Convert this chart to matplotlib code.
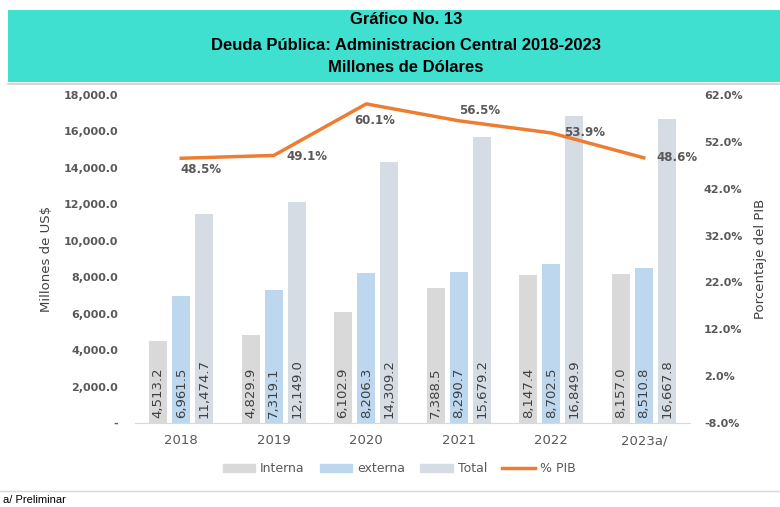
import matplotlib
matplotlib.use("Agg")
import matplotlib.pyplot as plt
import numpy as np
from matplotlib.patches import Rectangle
from matplotlib.lines import Line2D

years = ["2018", "2019", "2020", "2021", "2022", "2023a/"]
interna = [4513.2, 4829.9, 6102.9, 7388.5, 8147.4, 8157.0]
externa = [6961.5, 7319.1, 8206.3, 8290.7, 8702.5, 8510.8]
total = [11474.7, 12149.0, 14309.2, 15679.2, 16849.9, 16667.8]
pib = [48.5, 49.1, 60.1, 56.5, 53.9, 48.6]
left_ticks = [0, 2000, 4000, 6000, 8000, 10000, 12000, 14000, 16000, 18000]
right_ticks = [-8, 2, 12, 22, 32, 42, 52, 62]

c_int = "#D9D9D9"
c_ext = "#BDD7EE"
c_tot = "#D6DCE4"
c_line = "#ED7D31"
txt = "#595959"

fig = plt.figure(figsize=(7.8, 5.07), dpi=100)
fig.patch.set_facecolor("white")

# header band
fig.patches.append(Rectangle((8/780, 1-82/507), 772/780, 72/507, transform=fig.transFigure,
                             facecolor="#40E0D0", edgecolor="none", zorder=0))
fig.add_artist(Line2D([8/780, 1], [1-83.5/507, 1-83.5/507], color="#D0D0D0", lw=1.2))
tfont = dict(family=["Liberation Sans Narrow", "Liberation Sans", "DejaVu Sans"], fontweight="bold",
             fontsize=12, color="black", ha="center", va="center")
fig.text(406/780, 1-20/507, "Gráfico No. 13", **tfont)
fig.text(406/780, 1-45/507, "Deuda Pública: Administracion Central 2018-2023", **tfont)
fig.text(406/780, 1-68/507, "Millones de Dólares", **tfont)

ax = fig.add_axes([135/780, 1-423/507, 555/780, 328/507])
x = np.arange(len(years))
w = 0.195
off = 0.25
b1 = ax.bar(x - off, interna, w, color=c_int, zorder=2)
b2 = ax.bar(x, externa, w, color=c_ext, zorder=2)
b3 = ax.bar(x + off, total, w, color=c_tot, zorder=2)
for bars, vals in [(b1, interna), (b2, externa), (b3, total)]:
    for r, v in zip(bars, vals):
        ax.text(r.get_x() + r.get_width()/2, 250, f"{v:,.1f}", rotation=90, ha="center", va="bottom",
                fontsize=9.5, color="#404040", zorder=3)

ax.set_xlim(-0.5, 5.5)
ax.set_ylim(0, 18000)
ax.set_xticks(x)
ax.set_xticklabels(years, fontsize=9.5, color=txt)
ax.set_yticks(left_ticks)
ax.set_yticklabels(["-"] + [f"{v:,.1f}" for v in left_ticks[1:]], fontsize=8, color=txt, fontweight="bold")
ax.tick_params(axis="y", length=0, pad=12)
ax.tick_params(axis="x", length=0, pad=8)
for s in ["top", "right", "left"]:
    ax.spines[s].set_visible(False)
ax.spines["bottom"].set_color("#D9D9D9")
ax.set_ylabel("Millones de US$", fontsize=9.5, color="#404040", labelpad=8)

ax2 = ax.twinx()
ax2.plot(x, pib, color=c_line, lw=2.5, zorder=5)
ax2.set_ylim(-8, 62)
ax2.set_yticks(right_ticks)
ax2.set_yticklabels([f"{v:.1f}%" for v in right_ticks], fontsize=8, color=txt, fontweight="bold")
ax2.tick_params(axis="y", length=0, pad=10)
for s in ["top", "right", "left", "bottom"]:
    ax2.spines[s].set_visible(False)
ax2.set_ylabel("Porcentaje del PIB", fontsize=9.5, color="#404040", labelpad=8)

lab_off = [(0.21, -2.3), (0.36, -0.2), (0.09, -3.6), (0.23, 2.1), (0.36, 0.0), (0.36, 0.0)]
for xi, v, (dx, dy) in zip(x, pib, lab_off):
    ax2.text(xi + dx, v + dy, f"{v:.1f}%", ha="center", va="center", fontsize=8.5, color=txt,
             fontweight="bold", zorder=6)

handles = [Rectangle((0, 0), 1, 1, color=c_int), Rectangle((0, 0), 1, 1, color=c_ext),
           Rectangle((0, 0), 1, 1, color=c_tot), Line2D([], [], color=c_line, lw=2.5)]
fig.legend(handles, ["Interna", "externa", "Total", "% PIB"], loc="center", ncol=4,
           bbox_to_anchor=(399/780, 1-469/507), frameon=False, fontsize=9,
           handlelength=2.6, handleheight=0.6, handletextpad=0.4, columnspacing=1.2, labelcolor=txt)

fig.add_artist(Line2D([0, 1], [1-491/507, 1-491/507], color="#D9D9D9", lw=1))
fig.text(3/780, 1-500/507, "a/ Preliminar", fontsize=8, family=["Liberation Sans", "DejaVu Sans"],
         color="black", va="center")

fig.savefig("out.png", dpi=100)
